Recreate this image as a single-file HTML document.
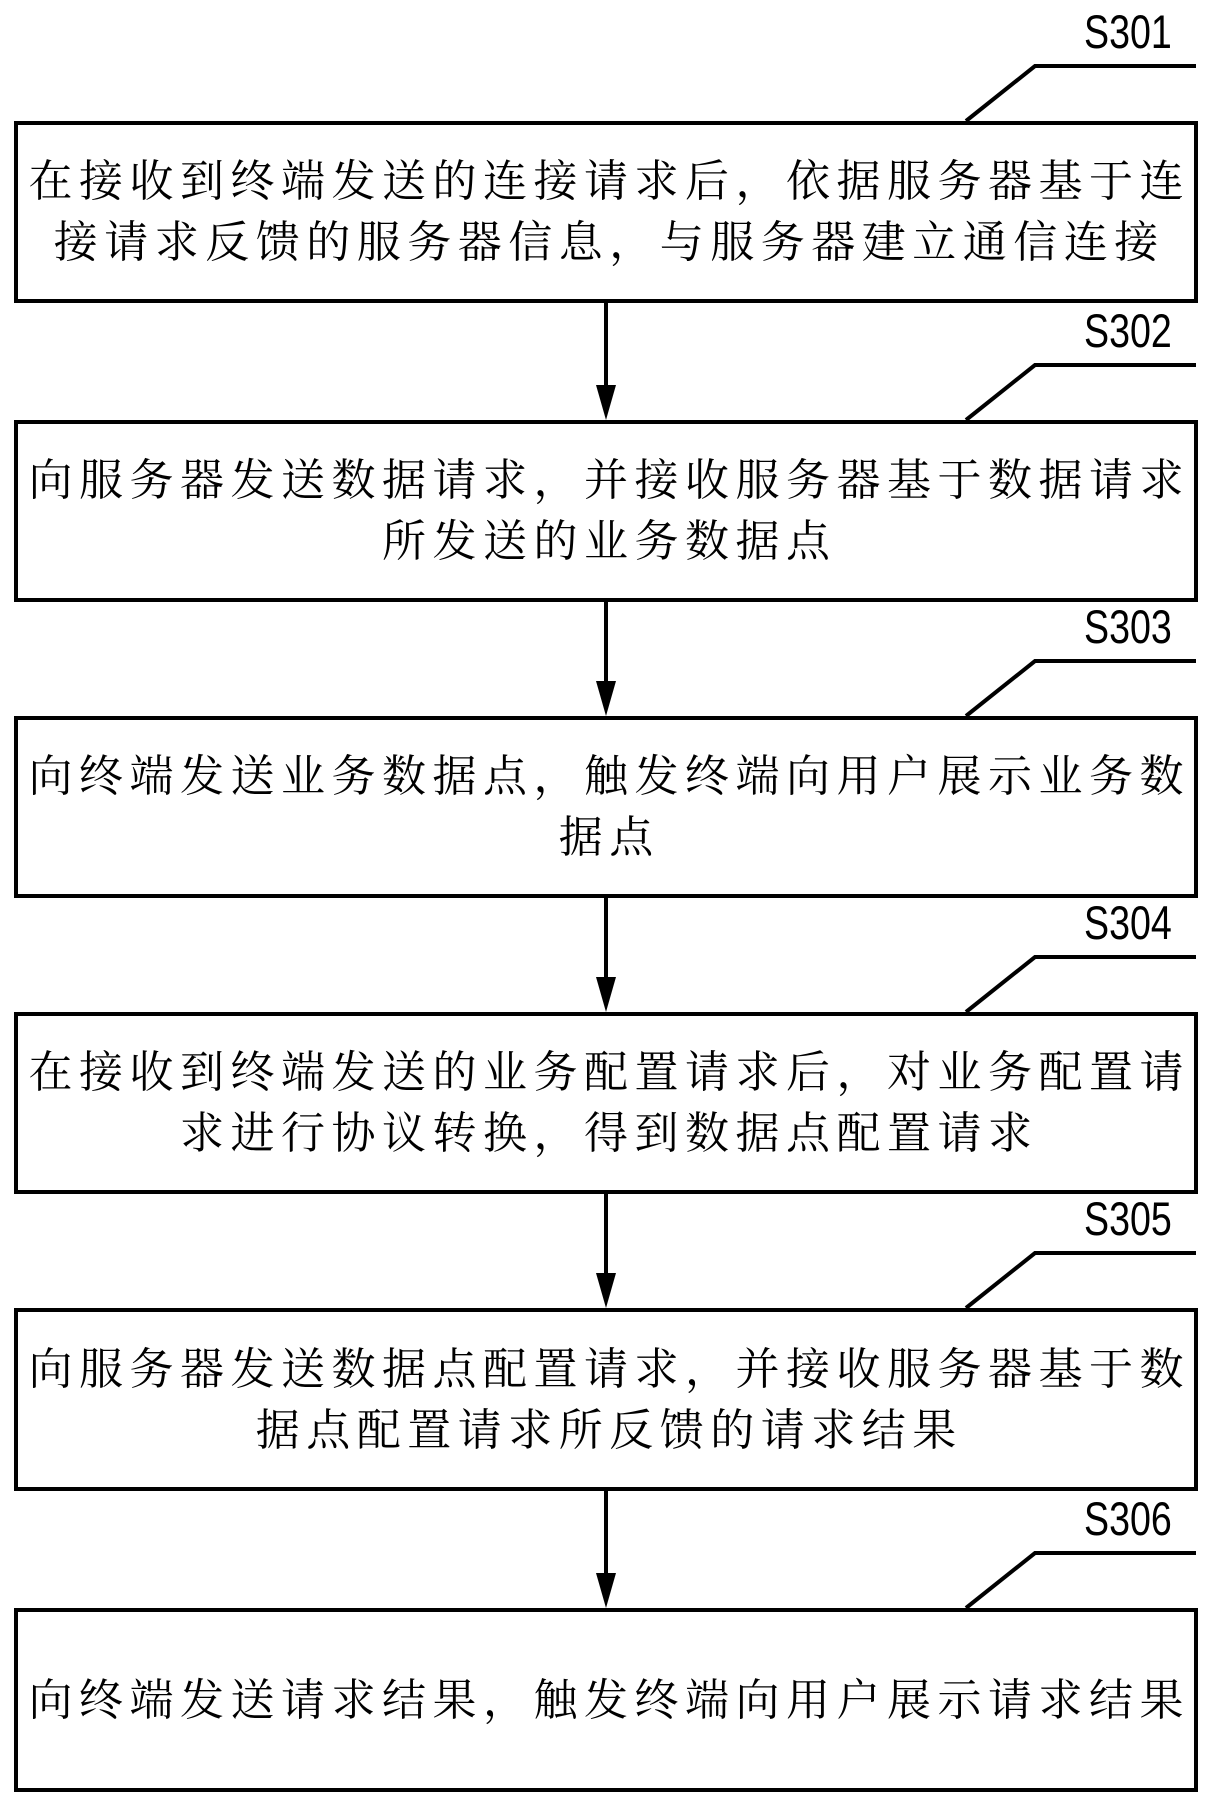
<!DOCTYPE html>
<html><head><meta charset="utf-8"><style>
body{margin:0;width:1211px;height:1799px;background:#fff;position:relative;overflow:hidden}
.box{position:absolute;left:14px;width:1176px;border:4px solid #000;box-sizing:content-box;display:flex;flex-direction:column;justify-content:center;align-items:center}
.t{font-family:"Liberation Serif","Noto Serif CJK SC",serif;font-size:44px;letter-spacing:6.5px;padding-left:6.5px;line-height:61px;white-space:nowrap;color:#000}
.lbl{position:absolute;left:1084px;font-family:"Liberation Sans",sans-serif;font-size:47px;transform:scaleX(0.8);transform-origin:left;color:#000}
</style></head><body>
<svg width="1211" height="1799" style="position:absolute;left:0;top:0">
<g stroke="#000" stroke-width="4" fill="none">
<polyline points="966,121 1035,66 1196,66"/>
<polyline points="966,420 1035,365 1196,365"/>
<polyline points="966,716 1035,661 1196,661"/>
<polyline points="966,1012 1035,957 1196,957"/>
<polyline points="966,1308 1035,1253 1196,1253"/>
<polyline points="966,1608 1035,1553 1196,1553"/>
<line x1="606" y1="303" x2="606" y2="395"/>
<line x1="606" y1="600" x2="606" y2="690"/>
<line x1="606" y1="896" x2="606" y2="986"/>
<line x1="606" y1="1192" x2="606" y2="1282"/>
<line x1="606" y1="1489" x2="606" y2="1582"/>
</g>
<g fill="#000">
<polygon points="596,385 616,385 606,420"/>
<polygon points="596,681 616,681 606,716"/>
<polygon points="596,977 616,977 606,1012"/>
<polygon points="596,1273 616,1273 606,1308"/>
<polygon points="596,1573 616,1573 606,1608"/>
</g>
</svg>
<div class="lbl" style="top:4px">S301</div>
<div class="lbl" style="top:303px">S302</div>
<div class="lbl" style="top:599px">S303</div>
<div class="lbl" style="top:895px">S304</div>
<div class="lbl" style="top:1191px">S305</div>
<div class="lbl" style="top:1491px">S306</div>
<div class="box" style="top:121px;height:174px"><div class="t">在接收到终端发送的连接请求后，依据服务器基于连</div><div class="t">接请求反馈的服务器信息，与服务器建立通信连接</div></div>
<div class="box" style="top:420px;height:174px"><div class="t">向服务器发送数据请求，并接收服务器基于数据请求</div><div class="t">所发送的业务数据点</div></div>
<div class="box" style="top:716px;height:174px"><div class="t">向终端发送业务数据点，触发终端向用户展示业务数</div><div class="t">据点</div></div>
<div class="box" style="top:1012px;height:174px"><div class="t">在接收到终端发送的业务配置请求后，对业务配置请</div><div class="t">求进行协议转换，得到数据点配置请求</div></div>
<div class="box" style="top:1308px;height:175px"><div class="t">向服务器发送数据点配置请求，并接收服务器基于数</div><div class="t">据点配置请求所反馈的请求结果</div></div>
<div class="box" style="top:1608px;height:176px"><div class="t">向终端发送请求结果，触发终端向用户展示请求结果</div></div>
</body></html>
